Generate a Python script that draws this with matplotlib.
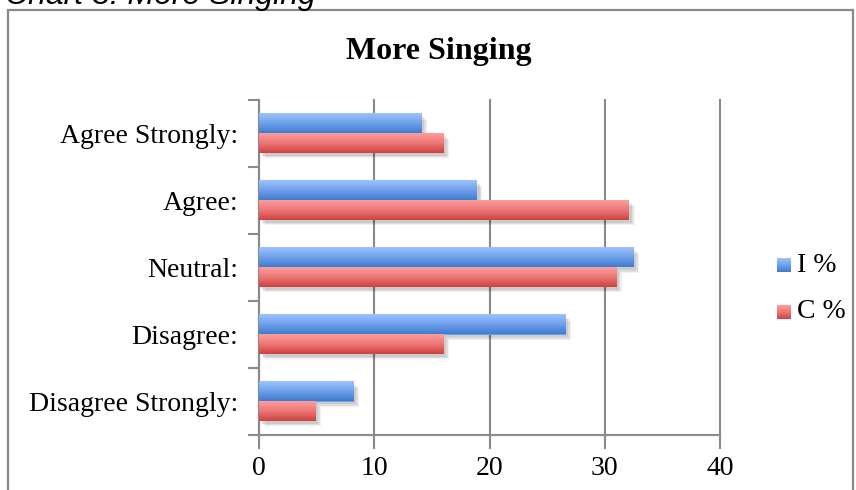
import numpy as np
import matplotlib
matplotlib.use("Agg")
import matplotlib.pyplot as plt
from matplotlib.colors import LinearSegmentedColormap
from matplotlib.patches import Rectangle
import matplotlib.patheffects as pe

# Survey responses, listed bottom to top as drawn
categories = ["Disagree Strongly:", "Disagree:", "Neutral:", "Agree:", "Agree Strongly:"]
series_names = ["I %", "C %"]
i_values = [8.2, 26.6, 32.5, 18.9, 14.1]
c_values = [4.9, 16.0, 31.0, 32.1, 16.0]
x_ticks = [0, 10, 20, 30, 40]

chart_title = "More Singing"
caption = "Chart 3: More Singing"

serif = "Liberation Serif"
W, H = 856, 490
fig = plt.figure(figsize=(W / 100, H / 100), dpi=100)

# outer frame around the chart object
frame = Rectangle((8 / W, -0.05), (853 - 8) / W, (H - 10) / H + 0.05,
                  transform=fig.transFigure, fill=False, edgecolor="#8a8a8a",
                  linewidth=1.6, zorder=0)
fig.patches.append(frame)
fig.text(5 / W, 1 - 4 / H, caption, fontsize=23, style="italic",
         family="Liberation Sans", va="baseline", ha="left")

ax = fig.add_axes([259 / W, 55 / H, (720 - 259) / W, (435 - 100) / H])

blue_cmap = LinearSegmentedColormap.from_list("b", ["#3e7cd0", "#6fa0ea", "#9cc2ff"])
red_cmap = LinearSegmentedColormap.from_list("r", ["#cf4141", "#ec7676", "#ff9c9c"])
grad = np.linspace(0, 1, 64).reshape(-1, 1)

bar_h = 0.29
y = np.arange(len(categories))
shadow = [pe.SimplePatchShadow(offset=(4, -4), shadow_rgbFace="#000000", alpha=0.06),
          pe.SimplePatchShadow(offset=(3, -3), shadow_rgbFace="#000000", alpha=0.08),
          pe.SimplePatchShadow(offset=(2, -2), shadow_rgbFace="#000000", alpha=0.08),
          pe.Normal()]

for vals, offs, cmap in [(i_values, bar_h / 2, blue_cmap), (c_values, -bar_h / 2, red_cmap)]:
    bars = ax.barh(y + offs, vals, height=bar_h, color=cmap(0.5), edgecolor="none",
                   zorder=3)
    for b in bars:
        b.set_path_effects(shadow)
        x0, y0 = b.get_x(), b.get_y()
        w, h = b.get_width(), b.get_height()
        ax.imshow(grad, extent=(x0, x0 + w, y0, y0 + h), origin="lower",
                  aspect="auto", cmap=cmap, zorder=4, interpolation="bilinear")

ax.set_xlim(0, 40)
ax.set_ylim(-0.5, len(categories) - 0.5)

# axes styling
for s in ["top", "right"]:
    ax.spines[s].set_visible(False)
for s in ["left", "bottom"]:
    ax.spines[s].set_color("#8a8a8a")
    ax.spines[s].set_linewidth(1.5)

ax.set_xticks(x_ticks)
ax.set_xticklabels([str(t) for t in x_ticks], family=serif, fontsize=20)
ax.xaxis.grid(True, color="#8a8a8a", linewidth=1.5, zorder=1)
for gl in ax.get_xgridlines():
    gl.set_clip_on(False)
ax.set_axisbelow(True)
ax.tick_params(axis="x", direction="out", length=10, width=1.5, color="#8a8a8a", pad=5)

ax.set_yticks(np.arange(-0.5, len(categories)), minor=False)
ax.set_yticklabels([])
ax.set_yticks(y, minor=True)
ax.set_yticklabels(categories, minor=True, family=serif, fontsize=20)
ax.tick_params(axis="y", which="major", direction="out", length=8, width=1.5,
               color="#8a8a8a")
ax.tick_params(axis="y", which="minor", length=0, pad=15)

fig.text(439 / W, 1 - 52 / H, chart_title, family=serif, fontsize=23,
         fontweight="bold", ha="center", va="center")

# legend with gradient swatches
for k, (name, cmap) in enumerate(zip(series_names, [blue_cmap, red_cmap])):
    cy = 265 + 47 * k
    sw = fig.add_axes([777 / W, 1 - (cy + 7) / H, 14 / W, 14 / H])
    sw.imshow(grad, origin="lower", aspect="auto", cmap=cmap, interpolation="bilinear")
    sw.set_axis_off()
    fig.text(797 / W, 1 - cy / H, name, family=serif, fontsize=20, va="center", ha="left")

fig.savefig("out.png", dpi=100)
